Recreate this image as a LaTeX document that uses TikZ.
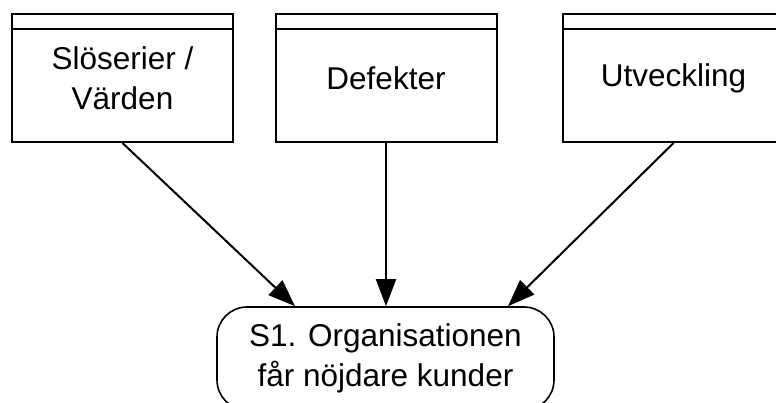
\documentclass[tikz,border=0pt]{standalone}
\usepackage{fontspec}
\setmainfont{Liberation Sans}
\usetikzlibrary{arrows.meta,calc}
\begin{document}
\begin{tikzpicture}[x=1pt,y=-1pt,
  box/.style={draw,line width=2pt,minimum width=221pt,minimum height=128pt,inner sep=0pt,align=center,
    font=\fontsize{31.5}{40}\selectfont},
  goal/.style={draw,line width=1.6pt,rounded corners=30pt,minimum width=337pt,minimum height=103pt,inner sep=0pt,align=center,
    font=\fontsize{31.5}{40}\selectfont},
  arr/.style={line width=2pt,-{Triangle[length=27pt,width=20pt]}},
  hdr/.style={line width=1.6pt}]
\useasboundingbox (0,0) rectangle (776,403);
\node[box] (a) at (122.5,78) {Slöserier /\\Värden};
\node[box] (b) at (386,78) {Defekter};
\node[box] (c) at (673.5,78) {Utveckling};
\node[goal] (s) at (385.5,358.5) {S1. Organisationen\\får nöjdare kunder};
\foreach \n in {a,b,c}{
  \draw[hdr] ([yshift=-16pt]\n.north west) -- ([yshift=-16pt]\n.north east);
}
\draw[arr] (a.south) -- ($(s.north)+(-90.5,0)$);
\draw[arr] (b.south) -- (s.north -| b.south);
\draw[arr] (c.south) -- ($(s.north)+(122.5,0)$);
\end{tikzpicture}
\end{document}
